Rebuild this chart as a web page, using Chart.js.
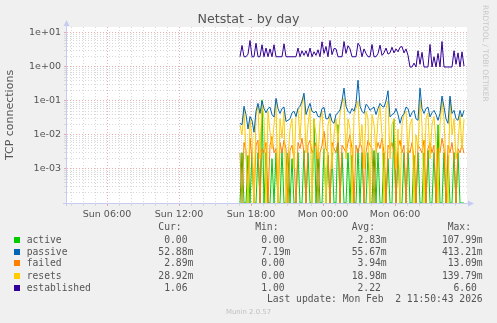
<!DOCTYPE html>
<html>
<head>
<meta charset="utf-8">
<script src="https://cdn.jsdelivr.net/npm/chart.js@4.4.1/dist/chart.umd.min.js"></script>
<style>
body { margin: 0; background: #f0f0f0; width: 497px; height: 323px; overflow: hidden; position: relative; font-family: 'DejaVu Sans', sans-serif; }
#c { position: absolute; left: 0; top: 0; }
.t { position: absolute; white-space: pre; color: #555; }
.mono { font-family: 'DejaVu Sans Mono', monospace; font-size: 9.7px; line-height: 12px; height: 12px; }
.sq { position: absolute; width: 6px; height: 6px; }
</style>
</head>
<body>
<canvas id="c" width="497" height="323"></canvas>
<div class="t" style="left:0;width:497px;text-align:center;top:11px;font-size:12.7px;line-height:15px;">Netstat - by day</div>
<div class="t" style="left:481px;top:5px;font-size:7.5px;color:#c8c8c8;writing-mode:vertical-rl;">RRDTOOL / TOBI OETIKER</div>
<div id="legend"></div>
<div class="t" style="left:0;width:497px;text-align:center;top:307px;font-size:6.9px;line-height:10px;color:#c0c0c0;">Munin 2.0.57</div>
<script>
// 10 minute samples, first one at Sun 17:05 (minutes relative to Mon 00:00)
const startMinute = -415;
const stepMinutes = 10;

const active = [
  0,0.003,0,0,0.0025,0,0.003,0,0,0.003,
  0,0.108,0,0.003,0,0,0.002,0,0.003,0,
  0,0.0035,0,0,0.003,0,0.002,0,0,0.003,
  0,0,0.0035,0,0.003,0,0,0.03,0,0.003,
  0,0,0.004,0,0.0025,0,0.003,0,0,0.02,
  0,0.003,0,0,0.003,0,0.0025,0,0,0.004,
  0,0.003,0,0,0.003,0,0,0.0035,0,0.003,
  0,0,0.003,0,0.002,0,0,0.03,0,0.003,
  0,0,0.003,0,0.004,0,0,0.0025,0,0.003,
  0,0,0.003,0,0.0035,0,0,0.003,0,0.02,
  0,0,0.003,0,0.0025,0,0,0.003,0,0.003,
  0,0,0
];
const passive = [
  0.022,0.02,0.07,0.04,0.015,0.035,0.027,0.012,0.05,0.085,
  0.043,0.1,0.06,0.045,0.06,0.066,0.04,0.034,0.12,0.06,
  0.043,0.06,0.066,0.025,0.027,0.03,0.045,0.05,0.035,0.06,
  0.07,0.1,0.17,0.04,0.06,0.085,0.05,0.045,0.05,0.035,
  0.034,0.06,0.065,0.03,0.03,0.043,0.025,0.022,0.04,0.045,
  0.055,0.1,0.24,0.07,0.05,0.043,0.06,0.05,0.085,0.41,
  0.07,0.05,0.043,0.08,0.07,0.053,0.06,0.066,0.04,0.06,
  0.085,0.07,0.066,0.1,0.2,0.034,0.04,0.043,0.06,0.04,
  0.022,0.035,0.043,0.066,0.06,0.034,0.045,0.053,0.03,0.027,
  0.24,0.06,0.043,0.06,0.066,0.034,0.045,0.053,0.04,0.027,
  0.043,0.14,0.066,0.03,0.022,0.14,0.043,0.053,0.03,0.027,
  0.053,0.034,0.053
];
const failed = [
  0.003,0,0.006,0.0035,0,0.008,0.002,0,0.005,0.007,
  0,0.004,0.003,0.006,0,0.005,0.009,0.003,0.004,0,
  0.006,0.003,0.007,0.004,0,0.0035,0.005,0.002,0,0.006,
  0.004,0.008,0.003,0,0.005,0.007,0.003,0.004,0.006,0,
  0.003,0.005,0.013,0.004,0.003,0,0.006,0.004,0.003,0.007,
  0,0.005,0.004,0.003,0.006,0.01,0.004,0,0.005,0.003,
  0.006,0.004,0,0.003,0.007,0.005,0.004,0,0.003,0.006,
  0.004,0.008,0.003,0,0.005,0.004,0.006,0.003,0,0.004,
  0.007,0.003,0.005,0,0.004,0.003,0.006,0.002,0,0.005,
  0.004,0.003,0.007,0,0.004,0.006,0.003,0.005,0,0.004,
  0.003,0.008,0.004,0,0.005,0.003,0.006,0.002,0,0.004,
  0.003,0.005,0.0029
];
const resets = [
  0.02,0.01,0.06,0.003,0,0.03,0.008,0,0.04,0.07,
  0.002,0.09,0.03,0,0.05,0.012,0.004,0.02,0.1,0,
  0.03,0.008,0.05,0,0.002,0.015,0.03,0.001,0.04,0.06,
  0.007,0.08,0.14,0.003,0.02,0.06,0,0.03,0.01,0.002,
  0.025,0.05,0.004,0,0.02,0.035,0.001,0.01,0.03,0.006,
  0.04,0.09,0.12,0.002,0.03,0.015,0,0.04,0.06,0.1,
  0.005,0.02,0.001,0.05,0.03,0,0.04,0.02,0.003,0.03,
  0.07,0.01,0,0.06,0.1,0.002,0.02,0.03,0.001,0.015,
  0,0.02,0.04,0.05,0.003,0.02,0.03,0,0.01,0.004,
  0.11,0.02,0,0.03,0.045,0.002,0.02,0.035,0.006,0,
  0.02,0.1,0.03,0.001,0,0.12,0.01,0.03,0.002,0.005,
  0.04,0.004,0.029
];
const established = [
  2,4.3,2,2,2.4,6.0,2,2,5.0,2,
  2,4.5,2,3.6,2,3.4,2,4.5,2,2,
  2,2,4.8,2,2,2,2,2,2,3.6,
  2,3.0,2.2,3.0,2,3.6,2,2.8,2.2,3.2,
  2,5.5,2.5,4.0,2,6.0,2.3,3.5,3.4,2,
  2,2,5.6,2.5,4.2,3.4,2,2,2,5.0,
  4.0,2,3.4,2.5,2,2,4.6,2,2,2.5,
  4.4,2.2,2.6,3.6,2.4,2.6,3.8,2.6,3.4,2.8,
  3.8,4.0,2.6,3.4,2.2,1,1,1.3,1,3.0,
  1.2,2.7,1,1,1,4.6,1,2.0,1,2.5,
  1,5.6,1,1,1,1,1,3.0,1.2,2.6,
  1,2.8,1.06
];

const seriesNames = ['active', 'passive', 'failed', 'resets', 'established'];
const seriesColors = ['#00cc00', '#0066b3', '#ff8000', '#ffcc00', '#330099'];
const curValues = ['0.00 ', '52.88m', '2.89m', '28.92m', '1.06 '];
const minValues = ['0.00 ', '7.19m', '0.00 ', '0.00 ', '1.00 '];
const avgValues = ['2.83m', '55.67m', '3.94m', '18.98m', '2.22 '];
const maxValues = ['107.99m', '413.21m', '13.09m', '139.79m', '6.60 '];

const xTickMinutes = [-1080, -720, -360, 0, 360];
const xTickLabels = ['Sun 06:00', 'Sun 12:00', 'Sun 18:00', 'Mon 00:00', 'Mon 06:00'];
const yTickValues = [0.001, 0.01, 0.1, 1, 10];
const yTickLabels = ['1e-03', '1e-02', '1e-01', '1e+00', '1e+01'];

const yFloor = 0.0001; // bottom of the log axis, zeros are drawn there like rrdtool does

function toPoints(values) {
    return values.map((v, i) => ({ x: startMinute + i * stepMinutes, y: v > 0 ? v : yFloor }));
}

function isDecade(v) {
    const l = Math.log10(v);
    return Math.abs(l - Math.round(l)) < 1e-9;
}

const majorGrid = 'rgba(225,140,140,0.7)';
const minorGrid = '#d8d8d8';

const frame = {
    id: 'frame',
    beforeDraw(chart) {
        const { ctx, chartArea: a } = chart;
        ctx.save();
        ctx.fillStyle = '#ffffff';
        ctx.fillRect(a.left, a.top, a.right - a.left, a.bottom - a.top);
        ctx.restore();
    },
    beforeDatasetsDraw(chart) {
        const { ctx, chartArea: a } = chart;
        const x = a.left - 0.5, y = a.bottom + 0.5;
        ctx.save();
        ctx.strokeStyle = ctx.fillStyle = '#c6cbf2';
        ctx.lineWidth = 1;
        ctx.beginPath();
        ctx.moveTo(x, a.bottom + 3); ctx.lineTo(x, a.top - 3);
        ctx.moveTo(a.left - 4, y); ctx.lineTo(a.right + 3, y);
        ctx.stroke();
        ctx.beginPath();
        ctx.moveTo(x - 3, a.top - 1); ctx.lineTo(x + 3, a.top - 1); ctx.lineTo(x, a.top - 7);
        ctx.fill();
        ctx.beginPath();
        ctx.moveTo(a.right + 1, y - 3); ctx.lineTo(a.right + 1, y + 3); ctx.lineTo(a.right + 7, y);
        ctx.fill();
        ctx.restore();
    }
};

const order = [1, 3, 2, 0, 4]; // first one is drawn on top
const datasets = order.map(k => ({
    label: seriesNames[k],
    data: toPoints([active, passive, failed, resets, established][k]),
    borderColor: seriesColors[k],
    borderWidth: 1,
    pointRadius: 0,
    fill: false,
    tension: 0
}));

Chart.defaults.font.family = "'DejaVu Sans', sans-serif";
Chart.defaults.color = '#555';

new Chart(document.getElementById('c'), {
    type: 'line',
    data: { datasets },
    plugins: [frame],
    options: {
        responsive: false,
        animation: false,
        devicePixelRatio: 1,
        layout: { padding: { top: 27, right: 30, left: 0, bottom: 0 } },
        plugins: { legend: { display: false }, tooltip: { enabled: false } },
        scales: {
            x: {
                type: 'linear',
                min: -1280,
                max: 720,
                afterFit: s => { s.height = 120; },
                afterBuildTicks: s => {
                    const t = [];
                    for (let m = -1260; m <= 660; m += 60) t.push({ value: m });
                    s.ticks = t;
                },
                ticks: {
                    autoSkip: false,
                    maxRotation: 0,
                    padding: 3,
                    font: { size: 9.5 },
                    callback: v => {
                        const i = xTickMinutes.indexOf(v);
                        return i >= 0 ? xTickLabels[i] : '';
                    }
                },
                grid: {
                    tickLength: 3,
                    color: c => (c.tick && c.tick.value % 360 === 0) ? majorGrid : minorGrid
                },
                border: { display: false, dash: [1, 2] }
            },
            y: {
                type: 'logarithmic',
                min: yFloor,
                max: 15,
                afterFit: s => { s.width = 67; },
                afterBuildTicks: s => {
                    const t = [];
                    for (let d = -4; d <= 1; d++) {
                        for (let m = 1; m <= 9; m++) {
                            const v = m * Math.pow(10, d);
                            if (v <= 15) t.push({ value: v, major: m === 1 });
                        }
                    }
                    s.ticks = t;
                },
                title: {
                    display: true,
                    text: 'TCP connections',
                    font: { size: 11 },
                    padding: { top: 4, bottom: 0 }
                },
                ticks: {
                    autoSkip: false,
                    padding: 3,
                    font: { size: 9.5 },
                    callback: v => {
                        for (let i = 0; i < yTickValues.length; i++) {
                            if (Math.abs(v / yTickValues[i] - 1) < 1e-6) return yTickLabels[i];
                        }
                        return '';
                    }
                },
                grid: {
                    tickLength: 3,
                    color: c => (c.tick && isDecade(c.tick.value)) ? majorGrid : minorGrid
                },
                border: { display: false, dash: [1, 2] }
            }
        }
    }
});

// legend below the plot, laid out the rrdtool way
const legend = document.getElementById('legend');
const rowY = [239.7, 251.7, 263.3, 275.7, 287.7];
const colRight = [193.3, 290.4, 386.7, 482.7];
const headers = [['Cur:', 158.3], ['Min:', 255.2], ['Avg:', 351.7], ['Max:', 447.7]];

function addText(text, left, centerY, right) {
    const d = document.createElement('div');
    d.className = 't mono';
    d.textContent = text;
    d.style.top = (centerY - 6) + 'px';
    if (right !== undefined) {
        d.style.right = (497 - right) + 'px';
    } else {
        d.style.left = left + 'px';
    }
    legend.appendChild(d);
}

headers.forEach(h => addText(h[0], h[1], 227.3));
seriesNames.forEach((name, i) => {
    const sq = document.createElement('div');
    sq.className = 'sq';
    sq.style.left = '14px';
    sq.style.top = (rowY[i] - 3) + 'px';
    sq.style.background = seriesColors[i];
    legend.appendChild(sq);
    addText(name, 26.7, rowY[i]);
    [curValues, minValues, avgValues, maxValues].forEach((col, j) => addText(col[i], 0, rowY[i], colRight[j]));
});
addText('Last update: Mon Feb  2 11:50:43 2026', 0, 299.3, 482.7);
</script>
</body>
</html>
